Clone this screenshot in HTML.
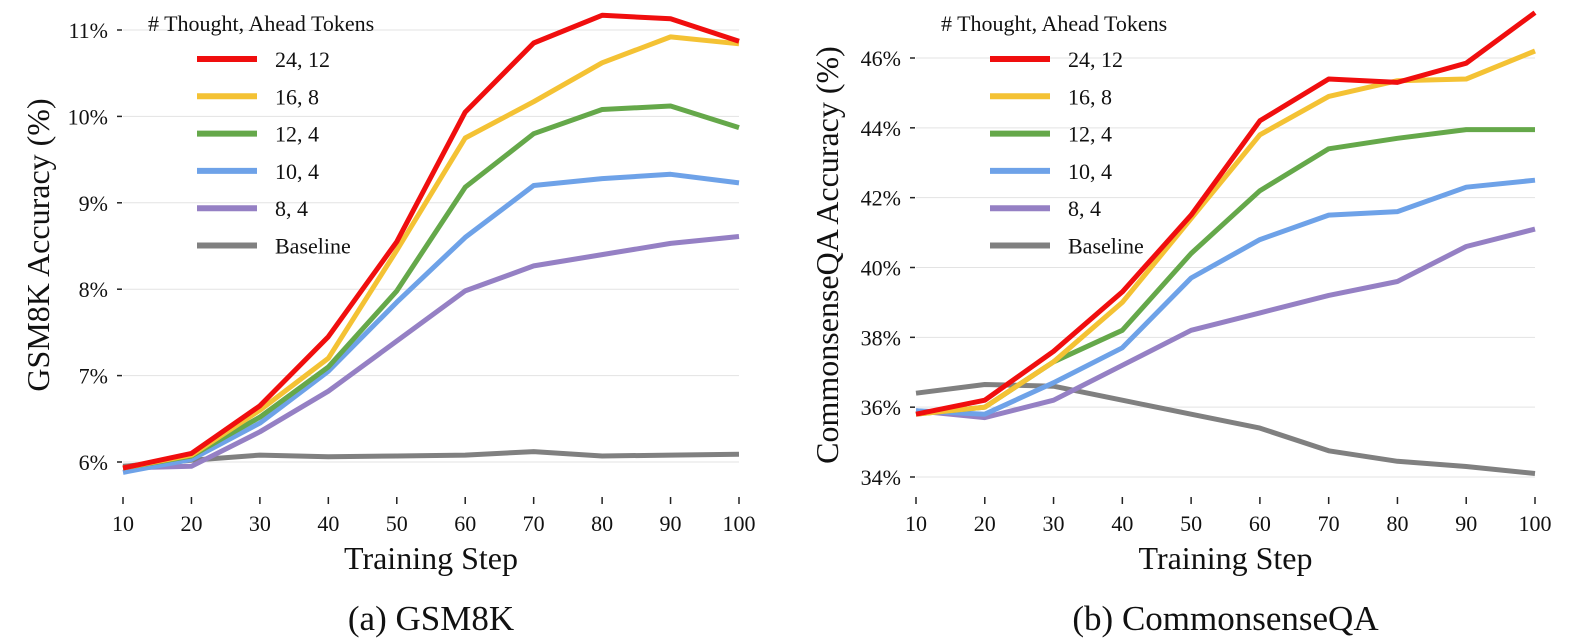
<!DOCTYPE html>
<html><head><meta charset="utf-8"><style>
html,body{margin:0;padding:0;background:#fff;}
svg{display:block;font-family:"Liberation Serif",serif;}
</style></head><body>
<svg id="chart" width="1576" height="642"></svg>
<script>
const steps=[10,20,30,40,50,60,70,80,90,100];
const seriesNames=["24, 12","16, 8","12, 4","10, 4","8, 4","Baseline"];
const colors=["#f00e0e","#f4c234","#65a84a","#6ea2e8","#9580c4","#808080"];
const gsm_24_12=[5.93,6.1,6.65,7.45,8.55,10.05,10.85,11.17,11.13,10.87];
const gsm_16_8=[5.93,6.08,6.6,7.2,8.45,9.75,10.17,10.62,10.92,10.84];
const gsm_12_4=[5.93,6.07,6.52,7.1,7.98,9.18,9.8,10.08,10.12,9.87];
const gsm_10_4=[5.88,6.03,6.45,7.05,7.85,8.6,9.2,9.28,9.33,9.23];
const gsm_8_4=[5.93,5.95,6.35,6.82,7.4,7.98,8.27,8.4,8.53,8.61];
const gsm_base=[5.95,6.02,6.08,6.06,6.07,6.08,6.12,6.07,6.08,6.09];
const csqa_24_12=[35.8,36.2,37.6,39.3,41.5,44.2,45.4,45.3,45.85,47.3];
const csqa_16_8=[35.8,36.0,37.3,39.0,41.4,43.8,44.9,45.35,45.4,46.2];
const csqa_12_4=[35.8,36.0,37.3,38.2,40.4,42.2,43.4,43.7,43.95,43.95];
const csqa_10_4=[35.9,35.8,36.7,37.7,39.7,40.8,41.5,41.6,42.3,42.5];
const csqa_8_4=[35.9,35.7,36.2,37.2,38.2,38.7,39.2,39.6,40.6,41.1];
const csqa_base=[36.4,36.65,36.6,36.2,35.8,35.4,34.75,34.45,34.3,34.1];
const gsmTicks=[6,7,8,9,10,11];
const csqaTicks=[34,36,38,40,42,44,46];
const xTicks=[10,20,30,40,50,60,70,80,90,100];

const NS="http://www.w3.org/2000/svg";
const svg=document.getElementById('chart');
function mk(tag,attrs,parent,text){const e=document.createElementNS(NS,tag);for(const k in attrs)e.setAttribute(k,attrs[k]);if(text!==undefined)e.textContent=text;(parent||svg).appendChild(e);return e;}

function panel(cfg){
  const g=mk('g',{});
  
  
  const x=v=>cfg.x0+(v-10)/90*(cfg.x1-cfg.x0);
  const y=v=>cfg.yA+(v-cfg.vA)/(cfg.vB-cfg.vA)*(cfg.yB-cfg.yA);
  const clipId=cfg.id+'-clip';
  const cp=mk('clipPath',{id:clipId},g);
  mk('rect',{x:cfg.x0-10,y:0,width:cfg.x1-cfg.x0+12,height:482},cp);
  cfg.yticks.forEach(t=>{
    const l=mk('line',{x1:cfg.x0,x2:cfg.x1,y1:y(t),y2:y(t),stroke:'#e3e3e3','stroke-width':1},g);
    
    
    const tm=mk('line',{x1:cfg.x0-6,x2:cfg.x0-1,y1:y(t),y2:y(t),stroke:'#222','stroke-width':1.5},g);
    
    
    const tx=mk('text',{x:cfg.x0-15,y:y(t)+8,'text-anchor':'end','font-size':22,fill:'#111'},g,t+'%');
    
    
  });
  xTicks.forEach(t=>{
    const tm=mk('line',{x1:x(t),x2:x(t),y1:497,y2:504,stroke:'#222','stroke-width':1.5},g);
    
    
    const tx=mk('text',{x:x(t),y:531,'text-anchor':'middle','font-size':22,fill:'#111'},g,String(t));
    
    
  });
  const lg=mk('g',{'clip-path':'url(#'+clipId+')'},g);
  for(let i=cfg.data.length-1;i>=0;i--){
    const d=cfg.data[i].map((v,j)=>(j?'L':'M')+x(steps[j]).toFixed(1)+','+y(v).toFixed(1)).join('');
    const p=mk('path',{d:d,fill:'none',stroke:colors[i],'stroke-width':5,'stroke-linejoin':'round'},lg);
    
    
  }
  const yt=mk('text',{x:0,y:0,transform:`translate(${cfg.ylabX},${cfg.ylabY}) rotate(-90)`,'text-anchor':'middle','font-size':32,fill:'#111'},g,cfg.ylabel);
  
  
  const xt=mk('text',{x:(cfg.x0+cfg.x1)/2,y:569,'text-anchor':'middle','font-size':32,fill:'#111'},g,'Training Step');
  
  
  const cap=mk('text',{x:(cfg.x0+cfg.x1)/2,y:630,'text-anchor':'middle','font-size':35,fill:'#111'},g,cfg.caption);
  
  
  const leg=mk('g',{},g);
  
  
  const lt=mk('text',{x:cfg.legX,y:31,'font-size':22,fill:'#111'},leg,'# Thought, Ahead Tokens');
  
  
  seriesNames.forEach((n,i)=>{
    const yy=59+i*37.3;
    const ll=mk('line',{x1:cfg.legX+49,x2:cfg.legX+109,y1:yy,y2:yy,stroke:colors[i],'stroke-width':6},leg);
    
    
    const t=mk('text',{x:cfg.legX+127,y:yy+8,'font-size':22,fill:'#111'},leg,n);
    
    
  });
}
panel({id:'gsm8k',x0:123,x1:739,vA:6,yA:462,vB:11,yB:30,yticks:gsmTicks,
  data:[gsm_24_12,gsm_16_8,gsm_12_4,gsm_10_4,gsm_8_4,gsm_base],
  ylabel:'GSM8K Accuracy (%)',ylabX:49,ylabY:245,caption:'(a) GSM8K',legX:148});
panel({id:'csqa',x0:916,x1:1535,vA:34,yA:477,vB:46,yB:58,yticks:csqaTicks,
  data:[csqa_24_12,csqa_16_8,csqa_12_4,csqa_10_4,csqa_8_4,csqa_base],
  ylabel:'CommonsenseQA Accuracy (%)',ylabX:838,ylabY:255,caption:'(b) CommonsenseQA',legX:941});
</script>
</body></html>
